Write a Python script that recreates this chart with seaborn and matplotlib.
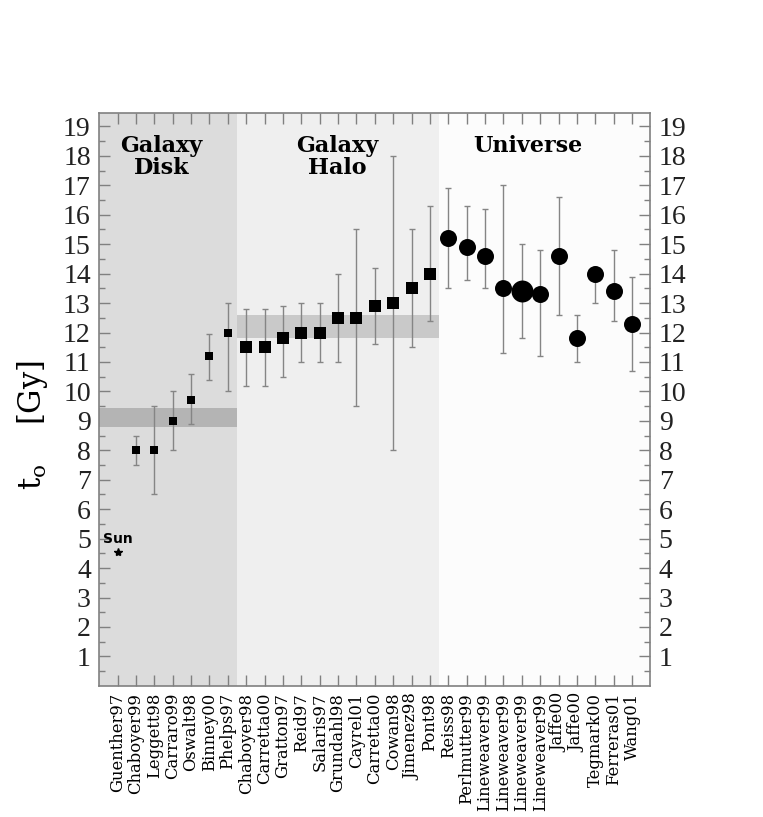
import numpy as np
import pandas as pd
import matplotlib
matplotlib.use("Agg")
import matplotlib.pyplot as plt
import seaborn as sns

# --- data ---
names = ["Guenther97", "Chaboyer99", "Leggett98", "Carraro99", "Oswalt98", "Binney00", "Phelps97",
         "Chaboyer98", "Carretta00", "Gratton97", "Reid97", "Salaris97", "Grundahl98", "Cayrel01",
         "Carretta00", "Cowan98", "Jimenez98", "Pont98",
         "Reiss98", "Perlmutter99", "Lineweaver99", "Lineweaver99", "Lineweaver99", "Lineweaver99",
         "Jaffe00", "Jaffe00", "Tegmark00", "Ferreras01", "Wang01"]

# disk (Guenther97 is the Sun, drawn separately)
disk_age = [np.nan, 8.0, 8.0, 9.0, 9.7, 11.2, 12.0]
disk_lo = [np.nan, 7.5, 6.5, 8.0, 8.9, 10.4, 10.0]
disk_hi = [np.nan, 8.5, 9.5, 10.0, 10.6, 11.95, 13.0]

halo_age = [11.5, 11.5, 11.8, 12.0, 12.0, 12.5, 12.5, 12.9, 13.0, 13.5, 14.0]
halo_lo = [10.2, 10.2, 10.5, 11.0, 11.0, 11.0, 9.5, 11.6, 8.0, 11.5, 12.4]
halo_hi = [12.8, 12.8, 12.9, 13.0, 13.0, 14.0, 15.5, 14.2, 18.0, 15.5, 16.3]

univ_age = [15.2, 14.9, 14.6, 13.5, 13.4, 13.3, 14.6, 11.8, 14.0, 13.4, 12.3]
univ_lo = [13.5, 13.8, 13.5, 11.3, 11.8, 11.2, 12.6, 11.0, 13.0, 12.4, 10.7]
univ_hi = [16.9, 16.3, 16.2, 17.0, 15.0, 14.8, 16.6, 12.6, 14.2, 14.8, 13.9]
univ_big = [False, False, False, False, True, False, False, False, False, False, False]

sun_age = 4.55
disk_band = (8.8, 9.45)
halo_band = (11.8, 12.6)
regions = ["Galaxy\nDisk", "Galaxy\nHalo", "Universe"]

# --- build table ---
pos = np.arange(1, len(names) + 1)
group = ["disk"] * 7 + ["halo"] * 11 + ["univ"] * 11
df = pd.DataFrame({
    "pos": pos,
    "name": names,
    "group": group,
    "age": disk_age + halo_age + univ_age,
    "lo": disk_lo + halo_lo + univ_lo,
    "hi": disk_hi + halo_hi + univ_hi,
    "big": [False] * 18 + univ_big,
})

sns.set_style("ticks")
plt.rcParams["font.family"] = ["DejaVu Serif"]
plt.rcParams["mathtext.fontset"] = "dejavuserif"
plt.rcParams["text.color"] = "black"
plt.rcParams["axes.labelcolor"] = "black"
plt.rcParams["xtick.labelcolor"] = "black"
plt.rcParams["ytick.labelcolor"] = "#222222"

fig = plt.figure(figsize=(7.63, 8.17), dpi=100)
ax = fig.add_axes([0.130, 0.1605, 0.7225, 0.7010])

# background regions
ax.axvspan(0, 7.5, color="#dcdcdc", lw=0, zorder=0)
ax.axvspan(7.5, 18.5, color="#efefef", lw=0, zorder=0)
ax.axvspan(18.5, 30, color="#fcfcfc", lw=0, zorder=0)
ax.fill_between([0, 7.5], disk_band[0], disk_band[1], color="#b4b4b4", lw=0, zorder=1)
ax.fill_between([7.5, 18.5], halo_band[0], halo_band[1], color="#c9c9c9", lw=0, zorder=1)

# error bars
ok = df["age"].notna()
d = df[ok]
ax.errorbar(d["pos"], d["age"], yerr=[d["age"] - d["lo"], d["hi"] - d["age"]],
            fmt="none", ecolor="#858585", elinewidth=1.0, capsize=2.5, capthick=1.0, zorder=2)

# markers
sns.scatterplot(data=d[d["group"] == "disk"], x="pos", y="age", marker="s", s=26,
                color="black", edgecolor="black", linewidth=0, ax=ax, zorder=3)
sns.scatterplot(data=d[d["group"] == "halo"], x="pos", y="age", marker="s", s=78,
                color="black", edgecolor="black", linewidth=0, ax=ax, zorder=3)
sns.scatterplot(data=d[(d["group"] == "univ") & ~d["big"]], x="pos", y="age", marker="o", s=150,
                color="black", edgecolor="black", linewidth=0, ax=ax, zorder=3)
sns.scatterplot(data=d[(d["group"] == "univ") & d["big"]], x="pos", y="age", marker="o", s=250,
                color="black", edgecolor="black", linewidth=0, ax=ax, zorder=3)

# the Sun
ax.plot([1], [sun_age], marker="*", color="black", ms=6, zorder=3)
ax.text(1, sun_age + 0.2, "Sun", family="DejaVu Sans", fontweight="bold", fontsize=10,
        ha="center", va="bottom")

# region titles
for xc, label in zip([3.4, 12.95, 23.35], regions):
    ax.text(xc, 18.72, label, ha="center", va="top", fontsize=16, fontweight="bold",
            linespacing=1.0)

ax.set_xlim(0, 30)
ax.set_ylim(0, 19.45)
ax.set_xticks(pos)
ax.set_xticklabels(names, rotation=90, fontsize=11.8, va="top")
ax.set_yticks(np.arange(1, 20))
ax.set_yticks(np.arange(0.5, 19.5, 1), minor=True)
ax.set_yticklabels([str(v) for v in range(1, 20)], family="Liberation Serif", fontsize=20)
ax.tick_params(axis="x", direction="in", length=8, width=1, color="#808080",
               top=True, bottom=True, pad=5)
ax.tick_params(axis="y", which="major", direction="in", length=8, width=1, color="#808080",
               left=True, right=True, labelright=True, pad=6)
ax.tick_params(axis="y", which="minor", direction="in", length=4, width=1, color="#808080",
               left=True, right=True)
for s in ax.spines.values():
    s.set_color("#808080")
    s.set_linewidth(1.2)
    s.set_visible(True)

ax.set_xlabel("")
ax.set_ylabel(r"t$_{\rm o}$    [Gy]", fontsize=22)
ax.yaxis.set_label_coords(-0.09, 0.455)

fig.savefig("out.png", dpi=100)
